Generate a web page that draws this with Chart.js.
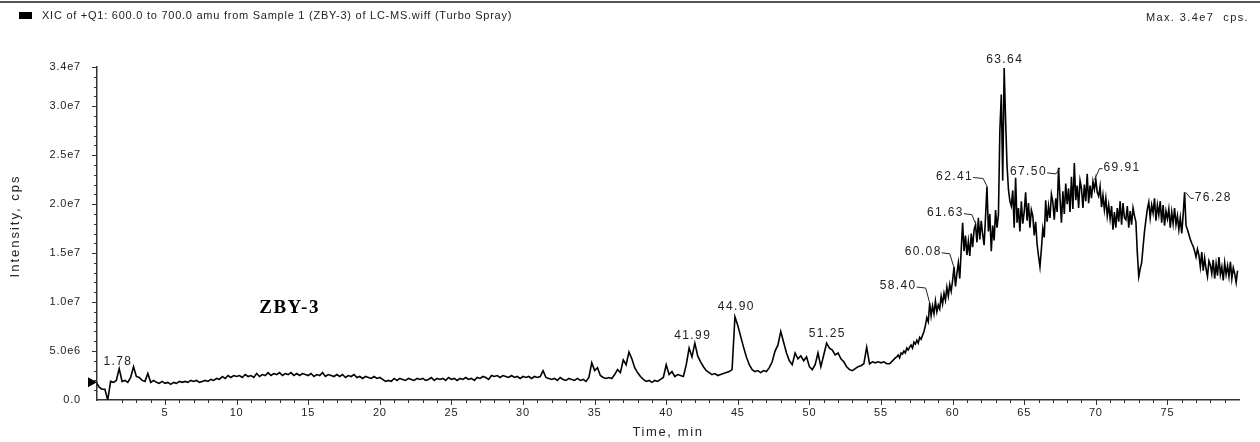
<!DOCTYPE html>
<html>
<head>
<meta charset="utf-8">
<script src="https://cdn.jsdelivr.net/npm/chart.js@4"></script>
<style>
  html, body { margin: 0; padding: 0; background: #fff; }
  #wrap { width: 1260px; height: 442px; position: relative; }
</style>
</head>
<body>
<div id="wrap"><canvas id="xic"></canvas></div>
<script>
// first part of the run is read every 0.2 min, the busy end every 0.1 min
const LOW_START = 0.2;
const LOW_STEP = 0.2;
const HIGH_START = 56.1;
const HIGH_STEP = 0.1;

// intensity readings in 1e6 cps (0.2 min apart)
const int0to10 = [1.8,1.3,1.1,1.1,0.0, 1.9,1.8,2.0,3.2,1.9, 2.0,1.8,2.3,3.4,2.4, 2.3,2.0,1.9,2.7,1.8,
  2.0,1.8,1.7,1.9,1.7, 1.8,1.6,1.8,1.7,1.9, 1.8,1.9,1.8,2.0,1.9, 2.0,1.8,1.9,2.0,1.9,
  2.1,2.0,2.2,2.1,2.4, 2.2,2.5,2.3,2.5,2.4];
const int10to20 = [2.5,2.3,2.6,2.4,2.5, 2.3,2.7,2.4,2.6,2.5, 2.8,2.5,2.7,2.6,2.8, 2.5,2.7,2.6,2.8,2.5,
  2.7,2.5,2.7,2.6,2.5, 2.7,2.4,2.6,2.5,2.8, 2.4,2.6,2.5,2.4,2.6, 2.4,2.6,2.3,2.5,2.4,
  2.6,2.3,2.4,2.2,2.4, 2.3,2.2,2.4,2.2,2.3];
const int20to30 = [2.1,1.9,2.0,1.9,2.2, 2.0,2.2,2.1,2.0,2.2, 2.1,2.0,2.2,2.1,2.2, 2.0,2.1,2.3,2.0,2.2,
  2.1,2.2,2.0,2.3,2.1, 2.2,2.0,2.2,2.1,2.3, 2.1,2.2,2.0,2.3,2.2, 2.4,2.3,2.1,2.5,2.4,
  2.5,2.3,2.5,2.4,2.3, 2.5,2.3,2.4,2.2,2.4];
const int30to40 = [2.3,2.4,2.2,2.4,2.3, 2.4,3.0,2.3,2.2,2.1, 2.2,2.0,2.3,2.1,2.0, 2.2,2.1,2.0,2.2,2.0,
  2.1,1.9,2.3,3.8,3.0, 3.3,2.5,2.3,2.2,2.3, 2.2,2.6,3.1,2.8,4.1, 3.6,4.9,4.2,3.3,2.8,
  2.4,2.1,1.9,2.0,1.8, 2.0,1.9,2.1,2.3,3.6];
const int40to50 = [2.6,2.9,2.4,2.6,2.5, 2.4,3.6,5.3,4.4,5.8, 4.5,3.9,3.4,3.0,2.8, 2.6,2.7,2.5,2.6,2.7,
  2.8,2.9,3.1,8.5,7.6, 6.5,5.4,4.4,3.6,3.1, 2.9,3.0,2.8,3.0,2.9, 3.3,3.9,5.0,5.6,7.0,
  5.9,4.8,4.0,3.6,4.8, 4.2,4.5,4.0,4.4,3.4];
const int50to56 = [3.1,3.6,4.8,3.4,4.6, 5.8,5.3,5.1,4.6,4.8, 4.2,3.9,3.4,3.1,3.0, 3.2,3.4,3.5,3.7,5.4,
  3.7,3.9,3.8,3.9,3.8, 3.9,3.7,3.7,4.0,4.3];

// intensity readings in 1e6 cps (0.1 min apart)
const int56to60 = [4.4,4.6,4.3,4.8,4.7,5.0,4.8,5.3,5.1,5.4, 5.6,5.3,5.9,5.7,6.1,5.8,6.4,6.2,6.6,7.0,
  7.6,8.4,8.0,9.9,8.6,9.6,8.8,10.1,9.0,9.7, 9.3,10.6,9.8,10.9,10.2,11.5,10.6,11.8,11.1,12.2];
const int60to65 = [13.6,11.6,12.9,14.0,12.4,15.3,18.1,15.2,16.8,14.8, 16.2,14.7,17.0,15.6,17.4,17.9,16.1,18.6,16.4,18.3,
  16.9,15.8,18.7,21.8,17.2,19.0,15.2,17.8,16.3,19.4, 17.6,18.9,27.5,31.2,22.4,33.9,28.6,24.0,21.5,20.3,
  19.8,21.4,17.6,22.7,18.1,19.6,17.2,20.3,18.0,19.2];
const int65to70 = [21.2,18.3,20.1,17.6,19.4,18.8,16.8,18.2,15.9,14.7, 13.6,15.4,17.5,16.6,20.4,18.2,19.8,18.6,21.0,20.2,
  18.4,20.6,19.2,23.7,20.6,18.1,21.3,19.0,22.1,20.0, 21.6,19.2,22.8,19.5,24.2,20.4,21.9,19.6,22.4,21.6,
  19.6,22.0,20.3,23.1,20.1,21.9,20.6,22.3,21.5,22.5];
const int70to75 = [21.2,20.8,21.8,19.7,20.9,19.4,20.6,18.8,19.9,18.5, 19.8,17.4,19.2,17.6,19.6,18.2,20.3,17.9,20.1,18.6,
  18.4,19.8,17.6,19.3,17.9,19.6,18.8,18.2,15.0,12.6, 13.4,14.0,15.6,17.2,18.4,19.5,20.2,18.6,19.9,19.1,
  20.6,18.3,19.9,18.9,20.3,18.1,19.9,17.8,19.3,18.5];
const int75to80 = [19.5,17.6,19.2,18.0,19.6,17.9,18.8,17.4,18.6,17.0, 18.9,21.2,17.8,17.4,16.9,16.4,16.0,15.7,15.2,14.6,
  15.4,14.8,13.6,15.1,13.2,14.5,13.4,12.6,14.2,13.8, 12.9,14.3,12.4,13.9,12.7,14.6,12.8,13.6,12.2,14.0,
  12.8,13.7,12.6,14.1,12.4,13.5,12.9,12.0,13.2];

// labelled peaks (retention time, min)
const peakTimes = [1.78, 41.99, 44.90, 51.25, 58.40, 60.08, 61.63, 62.41, 63.64, 67.50, 69.91, 76.28];

const titleText = 'XIC of +Q1: 600.0 to 700.0 amu from Sample 1 (ZBY-3) of LC-MS.wiff (Turbo Spray)';
const maxText = 'Max. 3.4e7  cps.';
const sampleName = 'ZBY-3';
const xTitle = 'Time, min';
const yTitle = 'Intensity, cps';

// label placement relative to the peak top, in px
const labelPlace = [
  { side: 'top', dx: -1, dy: -7 },
  { side: 'top', dx: -2, dy: -8 },
  { side: 'top', dx: 0, dy: -10 },
  { side: 'top', dx: 0, dy: -10 },
  { side: 'left', dx: -13, dy: -17 },
  { side: 'left', dx: -12, dy: -15 },
  { side: 'left', dx: -12, dy: -12 },
  { side: 'left', dx: -14, dy: -10 },
  { side: 'top', dx: 0, dy: -8 },
  { side: 'left', dx: -13, dy: 4 },
  { side: 'right', dx: 9, dy: -12 },
  { side: 'right', dx: 9, dy: 5 }
];

const FONT = '"Liberation Sans", Arial, sans-serif';
const lowPart = [].concat(int0to10, int10to20, int20to30, int30to40, int40to50, int50to56);
const highPart = [].concat(int56to60, int60to65, int65to70, int70to75, int75to80);
const points = lowPart.map((v, i) => ({ x: +(LOW_START + i * LOW_STEP).toFixed(2), y: v * 1e6 }))
  .concat(highPart.map((v, i) => ({ x: +(HIGH_START + i * HIGH_STEP).toFixed(2), y: v * 1e6 })));

function peakValue(t) {
  let best = 0;
  points.forEach(p => { if (Math.abs(p.x - t) <= 0.12 && p.y > best) best = p.y; });
  return best;
}

const xicDecor = {
  id: 'xicDecor',
  beforeDraw(chart) {
    chart.ctx.letterSpacing = '0.8px';
  },
  afterDraw(chart) {
    const { ctx, chartArea: a, scales: { x, y } } = chart;
    ctx.save();

    // header rule, legend swatch, title
    ctx.fillStyle = '#555';
    ctx.fillRect(0, 1, chart.width, 2);
    ctx.fillStyle = '#000';
    ctx.fillRect(19, 12, 13, 7);
    ctx.fillStyle = '#222';
    ctx.font = '11px ' + FONT;
    ctx.letterSpacing = '0.75px';
    ctx.textBaseline = 'middle';
    ctx.textAlign = 'left';
    ctx.fillText(titleText, 42, 16);
    ctx.letterSpacing = '1.4px';
    ctx.textAlign = 'right';
    ctx.fillText(maxText, 1249, 18);

    // axis titles
    ctx.font = '13px ' + FONT;
    ctx.letterSpacing = '1.6px';
    ctx.textAlign = 'center';
    ctx.fillText(xTitle, (a.left + a.right) / 2, 432);
    ctx.letterSpacing = '2px';
    ctx.save();
    ctx.translate(15, 226);
    ctx.rotate(-Math.PI / 2);
    ctx.fillText(yTitle, 0, 0);
    ctx.restore();

    // tick marks: long at labelled values, short in between
    ctx.strokeStyle = '#333';
    ctx.lineWidth = 1;
    x.ticks.forEach(t => {
      if (t.value < 1 || t.value >= 80) return;
      const px = Math.round(x.getPixelForValue(t.value)) + 0.5;
      const len = t.value % 5 === 0 ? 5 : 3;
      ctx.beginPath();
      ctx.moveTo(px, a.bottom);
      ctx.lineTo(px, a.bottom + len);
      ctx.stroke();
    });
    y.ticks.forEach(t => {
      if (t.value === 0) return;
      const py = Math.round(y.getPixelForValue(t.value)) + 0.5;
      const len = (t.value % 5e6 === 0 || t.value === 3.4e7) ? 5 : 3;
      ctx.beginPath();
      ctx.moveTo(a.left, py);
      ctx.lineTo(a.left - len, py);
      ctx.stroke();
    });

    // start marker
    const my = y.getPixelForValue(points[0].y);
    ctx.fillStyle = '#000';
    ctx.beginPath();
    ctx.moveTo(a.left - 9, my - 5);
    ctx.lineTo(a.left, my);
    ctx.lineTo(a.left - 9, my + 5);
    ctx.closePath();
    ctx.fill();

    // peak labels
    ctx.font = '12px ' + FONT;
    ctx.letterSpacing = '1.4px';
    ctx.fillStyle = '#222';
    ctx.strokeStyle = '#222';
    peakTimes.forEach((t, i) => {
      const place = labelPlace[i];
      const px = x.getPixelForValue(t);
      const py = y.getPixelForValue(peakValue(t));
      const tx = px + place.dx;
      const ty = py + place.dy;
      const txt = t.toFixed(2);
      ctx.textBaseline = 'middle';
      if (place.side === 'top') {
        ctx.textAlign = 'center';
        ctx.fillText(txt, tx, ty);
        return;
      }
      ctx.beginPath();
      if (place.side === 'left') {
        ctx.textAlign = 'right';
        ctx.fillText(txt, tx, ty);
        ctx.moveTo(tx, ty + 1);
        ctx.lineTo(px - 4, ty + 2);
        ctx.lineTo(px, py);
      } else {
        ctx.textAlign = 'left';
        ctx.fillText(txt, tx, ty);
        ctx.moveTo(px, py);
        ctx.lineTo(tx - 4, ty + 1);
        ctx.lineTo(tx - 1, ty + 1);
      }
      ctx.stroke();
    });

    // sample name
    ctx.font = 'bold 19px "Liberation Serif", "Times New Roman", serif';
    ctx.letterSpacing = '1.5px';
    ctx.fillStyle = '#000';
    ctx.textAlign = 'center';
    ctx.fillText(sampleName, x.getPixelForValue(13.7), y.getPixelForValue(9.4e6));
    ctx.restore();
  }
};

new Chart(document.getElementById('xic'), {
  type: 'line',
  data: {
    datasets: [{
      data: points,
      borderColor: '#000',
      borderWidth: 1.6,
      pointRadius: 0,
      fill: false,
      tension: 0
    }]
  },
  options: {
    animation: false,
    responsive: true,
    maintainAspectRatio: false,
    layout: { padding: { top: 67, right: 21, bottom: 0, left: 0 } },
    plugins: { legend: { display: false }, tooltip: { enabled: false } },
    scales: {
      x: {
        type: 'linear',
        min: 0.25,
        max: 80,
        border: { display: true, color: '#333', width: 1.5 },
        grid: { display: false, drawTicks: false },
        ticks: {
          stepSize: 1,
          autoSkip: false,
          maxRotation: 0,
          padding: 6,
          color: '#222',
          font: { family: FONT, size: 11 },
          callback: v => (v > 0 && v < 80 && v % 5 === 0) ? String(v) : ''
        },
        afterFit: s => { s.height = 42; }
      },
      y: {
        min: 0,
        max: 3.4e7,
        border: { display: true, color: '#333', width: 1.5 },
        grid: { display: false, drawTicks: false },
        ticks: {
          stepSize: 1e6,
          autoSkip: false,
          padding: 16,
          color: '#222',
          font: { family: FONT, size: 11 },
          callback: v => {
            if (v === 0) return '0.0';
            if (v % 5e6 === 0 || v === 3.4e7) return v.toExponential(1).replace('e+', 'e');
            return '';
          }
        },
        afterFit: s => { s.width = 97; }
      }
    }
  },
  plugins: [xicDecor]
});
</script>
</body>
</html>
